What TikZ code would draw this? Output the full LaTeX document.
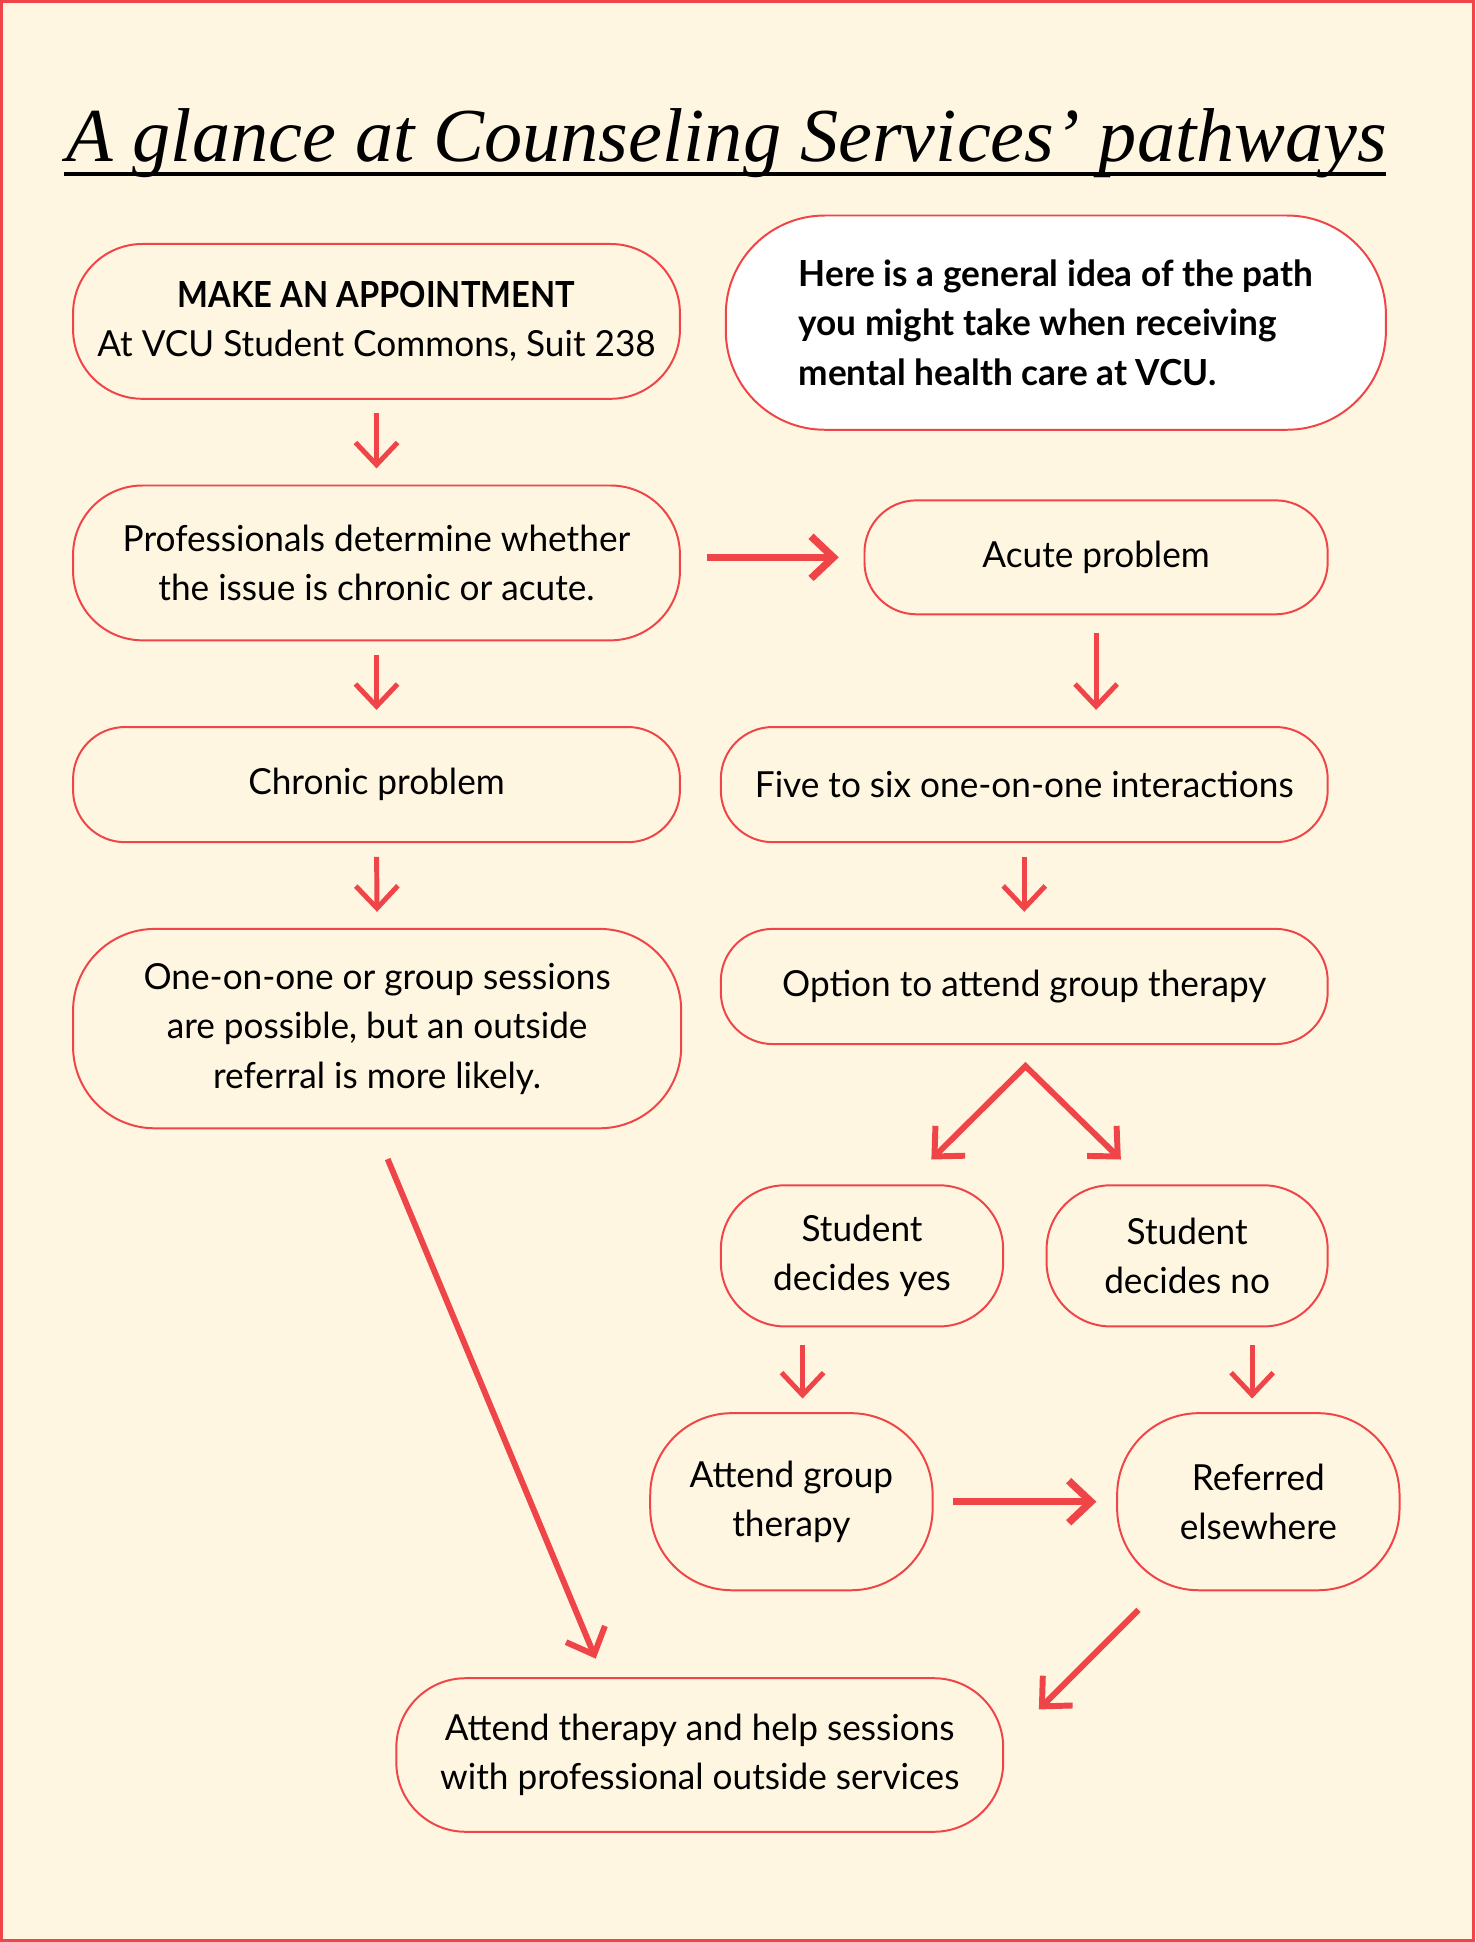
\documentclass[tikz,border=0pt]{standalone}
\usepackage{fontspec}
\setmainfont{Liberation Serif}
\newfontfamily\bodyfont[FakeStretch=0.98]{Lato}
\newfontfamily\narrowfont[FakeStretch=0.91]{Lato}
\usetikzlibrary{positioning,calc,arrows.meta}
\definecolor{cream}{HTML}{FEF6E0}
\definecolor{vred}{HTML}{EF4548}

\begin{document}
\begin{tikzpicture}[x=0.5pt,y=-0.5pt]

  % Background and frame
  \fill[cream] (0,0) rectangle (1191,1568);
  \draw[vred, line width=1.2pt] (1.2,1.2) rectangle (1189.8,1566.8);
  \useasboundingbox (0,0) rectangle (1191,1568);

  % Title with underline
  \draw[line width=1.6pt] (52,140.5) -- (1119,140.5);
  \node[anchor=base, inner sep=0pt, font=\fontsize{30.8}{36}\selectfont\itshape] (title) at (587,130)
        {A glance at Counseling Services' pathways};

  \tikzset{
        barb/.tip = {Straight Barb[length=9pt, width=17pt, line cap=butt, line join=miter]},
        box/.style = {draw=vred, line width=0.8pt, fill=cream, align=center, inner sep=0pt,
                      font=\bodyfont\fontsize{14.5}{20}\selectfont, rounded corners=#1},
        box/.default = 21pt,
        flow/.style = {-barb, vred, line width=2pt, shorten <=5.5pt, shorten >=6.5pt}
  };

  % Left column
  \node[box=28pt, minimum width=245pt, minimum height=62.5pt] (appt) at (304,259.5)
        {{\narrowfont\bfseries MAKE AN APPOINTMENT}\\At VCU Student Commons, Suit 238};
  \node[box=28pt, minimum width=245pt, minimum height=62.5pt] (prof) at (304,454.5)
        {Professionals determine whether\\the issue is chronic or acute.};
  \node[box, minimum width=245pt, minimum height=46.5pt] (chronic) at (304,633.5) {Chronic problem};
  \node[box=33pt, minimum width=245.5pt, minimum height=80.5pt] (oneone) at (304.5,830.5)
        {One-on-one or group sessions\\are possible, but an outside\\referral is more likely.};

  % Right column
  \node[box=40pt, fill=white, align=left, minimum width=266.5pt, minimum height=86.5pt,
        font=\bodyfont\bfseries\fontsize{14.5}{20}\selectfont] (intro) at (852.5,260.5)
        {Here is a general idea of the path\\you might take when receiving\\mental health care at VCU.};
  \node[box, minimum width=187pt, minimum height=46pt] (acute) at (885,450) {Acute problem};
  \node[box, minimum width=245pt, minimum height=46.5pt] (five) at (827,633.5)
        {Five to six one-on-one interactions};
  \node[box, minimum width=245pt, minimum height=46.5pt] (option) at (827,796.5)
        {Option to attend group therapy};

  % Decisions
  \node[box=26pt, minimum width=114pt, minimum height=57pt] (yes) at (696,1014) {Student\\decides yes};
  \node[box=26pt, minimum width=113.5pt, minimum height=57pt] (no) at (958.5,1014) {Student\\decides no};
  \node[box=33pt, minimum width=114pt, minimum height=71.5pt] (group) at (639,1212.5) {Attend group\\therapy};
  \node[box=33pt, minimum width=114pt, minimum height=71.5pt] (referred) at (1016,1212.5) {Referred\\elsewhere};

  % Outcome
  \node[box=28pt, minimum width=245pt, minimum height=62pt] (final) at (565,1417)
        {Attend therapy and help sessions\\with professional outside services};

  % Straight downward arrows
  \foreach \a/\b in {appt/prof, prof/chronic, chronic/oneone, five/option} {
        \draw[flow] (\a.south) -- (\b.north);
  }
  \draw[flow, shorten <=7pt] (acute.south) -- (acute.south |- five.north);

  % Sideways arrows
  \draw[flow, line width=3pt, shorten <=10.5pt, shorten >=10pt] (prof.east |- acute.west) -- (acute.west);
  \draw[flow, line width=3pt, shorten <=8pt, shorten >=8pt] (group.east) -- (referred.west);

  % Split after the option
  \coordinate (split) at ($(option.south)+(1,17)$);
  \coordinate (yesin) at ($(yes.north)+(56,-20)$);
  \coordinate (noin) at ($(no.north)+(-53.5,-20)$);
  \draw[barb-barb, vred, line width=2.4pt, line join=miter] (yesin) -- (split) -- (noin);

  % Decisions to their results
  \coordinate (yesout) at ($(yes.south)+(-48,0)$);
  \coordinate (noout) at ($(no.south)+(52.5,0)$);
  \draw[flow, shorten <=7pt, shorten >=5.5pt] (yesout) -- (yesout |- group.north);
  \draw[flow, shorten <=7pt, shorten >=5.5pt] (noout) -- (noout |- referred.north);

  % Into outside services
  \coordinate (oneout) at ($(oneone.south)+(8.5,24)$);
  \coordinate (finalleft) at ($(final.north)+(-84,-15)$);
  \draw[flow, line width=2.4pt, shorten <=0pt, shorten >=0pt] (oneout) -- (finalleft);
  \coordinate (refout) at ($(referred.south west)+(18,15)$);
  \coordinate (finalright) at ($(final.north east)+(28,26)$);
  \draw[flow, line width=2.4pt, shorten <=0pt, shorten >=0pt] (refout) -- (finalright);

\end{tikzpicture}
\end{document}
